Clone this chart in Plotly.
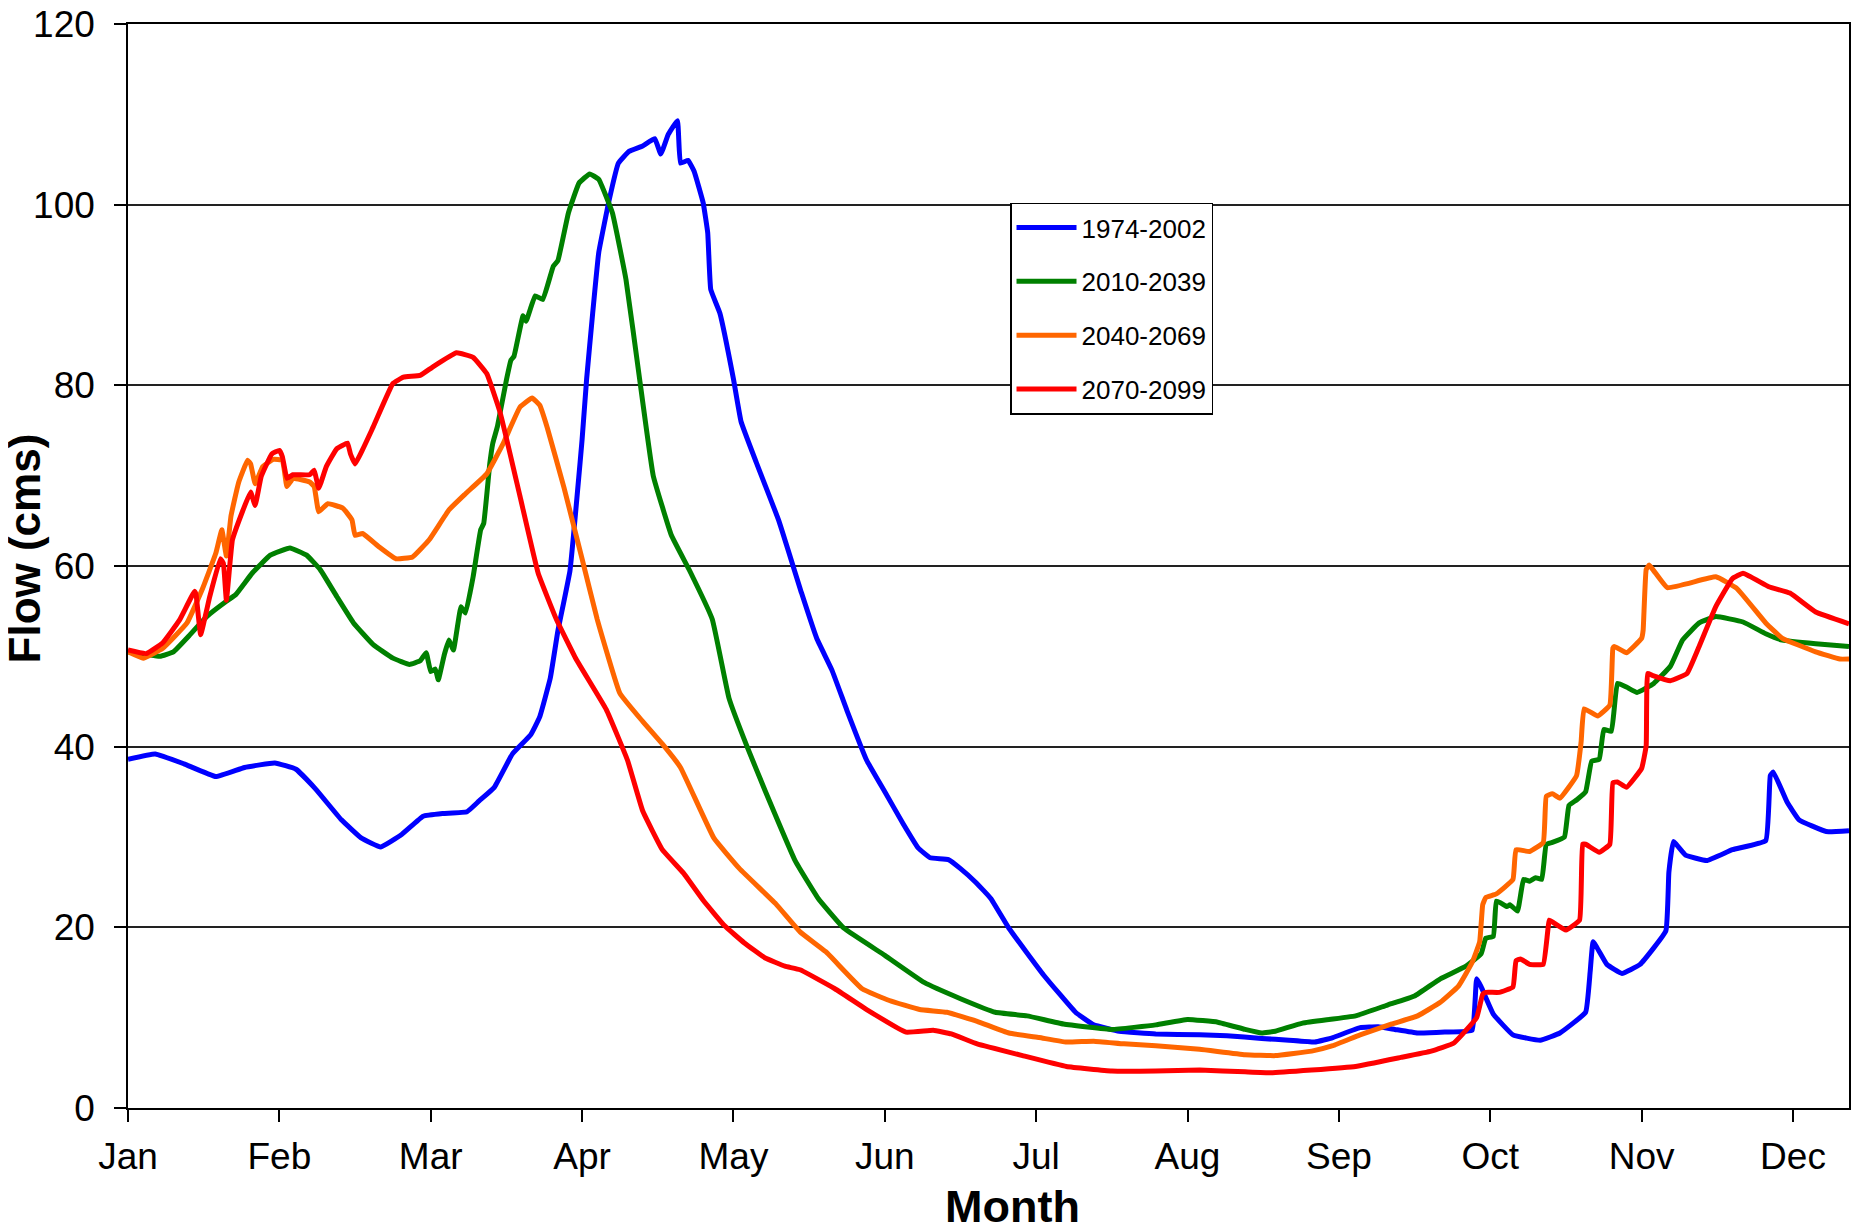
import plotly.graph_objects as go

months = ["Jan", "Feb", "Mar", "Apr", "May", "Jun", "Jul", "Aug", "Sep", "Oct", "Nov", "Dec"]
month_pos = list(range(12))
x_end = 11.37

series_names = ["1974-2002", "2010-2039", "2040-2069", "2070-2099"]
series_colors = ["#0000FF", "#008000", "#FF6600", "#FF0000"]

# x in month units (0 = Jan tick), y = flow (cms)
x_1974 = [0.00, 0.18, 0.37, 0.58, 0.77, 0.97, 1.11, 1.24, 1.41, 1.54, 1.67, 1.81, 1.95, 2.08, 2.24, 2.32,
          2.42, 2.54, 2.66, 2.72, 2.79, 2.84, 2.92, 3.00, 3.03, 3.07, 3.11, 3.18, 3.24, 3.31, 3.40, 3.48,
          3.52, 3.57, 3.63, 3.65, 3.70, 3.74, 3.80, 3.83, 3.85, 3.91, 4.00, 4.05, 4.15, 4.30, 4.45, 4.55,
          4.65, 4.75, 4.88, 5.00, 5.12, 5.22, 5.30, 5.42, 5.50, 5.60, 5.70, 5.82, 6.05, 6.26, 6.38, 6.55,
          6.79, 7.08, 7.26, 7.49, 7.67, 7.84, 7.96, 8.14, 8.26, 8.37, 8.52, 8.70, 8.88, 8.91, 8.94, 9.02,
          9.15, 9.33, 9.46, 9.63, 9.66, 9.68, 9.77, 9.87, 9.99, 10.16, 10.18, 10.21, 10.29, 10.43, 10.60,
          10.82, 10.85, 10.87, 10.96, 11.04, 11.22, 11.37]
y_1974 = [38.6, 39.2, 38.1, 36.7, 37.7, 38.2, 37.5, 35.3, 31.9, 29.9, 28.9, 30.3, 32.3, 32.6, 32.8, 34.0,
          35.5, 39.2, 41.3, 43.3, 47.6, 52.8, 59.5, 74.0, 80.7, 88.0, 94.7, 100.6, 104.6, 105.9, 106.5, 107.3,
          105.6, 107.8, 109.3, 104.6, 104.9, 103.7, 100.2, 96.9, 90.6, 88.0, 80.7, 76.0, 71.5, 65.0, 57.0, 52.0,
          48.5, 44.0, 38.5, 35.0, 31.5, 28.8, 27.7, 27.5, 26.5, 25.0, 23.2, 19.9, 14.7, 10.6, 9.2, 8.5,
          8.2, 8.1, 8.0, 7.7, 7.5, 7.3, 7.8, 8.9, 9.0, 8.7, 8.3, 8.4, 8.6, 14.3, 13.4, 10.4,
          8.1, 7.5, 8.3, 10.6, 15.1, 18.4, 15.9, 14.9, 15.9, 19.6, 26.1, 29.5, 28.0, 27.4, 28.6,
          29.6, 36.8, 37.2, 33.9, 31.9, 30.6, 30.7]

x_2010 = [0.00, 0.21, 0.30, 0.41, 0.52, 0.65, 0.71, 0.82, 0.94, 1.07, 1.18, 1.27, 1.38, 1.49, 1.62, 1.75,
          1.86, 1.93, 1.97, 2.00, 2.03, 2.05, 2.09, 2.12, 2.15, 2.20, 2.23, 2.28, 2.33, 2.35, 2.39, 2.41,
          2.44, 2.50, 2.53, 2.55, 2.61, 2.63, 2.69, 2.74, 2.81, 2.84, 2.91, 2.98, 3.05, 3.11, 3.20, 3.29,
          3.38, 3.47, 3.59, 3.71, 3.86, 3.97, 4.09, 4.21, 4.41, 4.56, 4.73, 5.00, 5.26, 5.50, 5.73, 5.94,
          6.18, 6.50, 6.79, 7.00, 7.20, 7.38, 7.49, 7.58, 7.76, 8.11, 8.32, 8.50, 8.67, 8.84, 8.94, 8.97,
          9.02, 9.04, 9.07, 9.11, 9.13, 9.18, 9.22, 9.26, 9.30, 9.34, 9.37, 9.41, 9.49, 9.52, 9.57, 9.63,
          9.67, 9.72, 9.75, 9.80, 9.84, 9.90, 9.97, 10.08, 10.19, 10.27, 10.38, 10.49, 10.67, 10.82, 10.93,
          11.15, 11.37]
y_2010 = [50.5, 50.0, 50.5, 52.4, 54.4, 56.1, 56.8, 59.2, 61.2, 62.0, 61.2, 59.6, 56.6, 53.7, 51.3, 49.8,
          49.1, 49.5, 50.4, 48.3, 48.6, 47.4, 50.2, 51.8, 50.7, 55.5, 54.8, 58.8, 64.0, 64.7, 71.3, 73.6,
          75.4, 80.6, 82.8, 83.2, 87.7, 87.1, 89.9, 89.5, 93.2, 93.8, 99.1, 102.4, 103.4, 102.8, 99.1, 91.7,
          80.7, 70.0, 63.4, 59.5, 54.1, 45.4, 40.0, 35.1, 27.3, 23.2, 19.9, 16.9, 13.9, 12.1, 10.6, 10.2,
          9.3, 8.7, 9.2, 9.8, 9.5, 8.7, 8.3, 8.5, 9.4, 10.2, 11.4, 12.4, 14.3, 15.7, 17.1, 18.8,
          19.0, 22.9, 22.7, 22.3, 22.5, 21.8, 25.3, 25.1, 25.5, 25.3, 29.2, 29.4, 30.0, 33.5, 34.1, 35.0,
          38.4, 38.6, 41.9, 41.7, 47.0, 46.6, 46.0, 47.0, 48.9, 51.8, 53.7, 54.4, 53.8, 52.5, 51.8,
          51.4, 51.1]

x_2040 = [0.00, 0.10, 0.23, 0.39, 0.49, 0.58, 0.62, 0.65, 0.68, 0.73, 0.79, 0.81, 0.84, 0.89, 0.96, 1.02,
          1.05, 1.09, 1.20, 1.23, 1.26, 1.32, 1.42, 1.48, 1.50, 1.55, 1.66, 1.77, 1.88, 1.99, 2.12, 2.23,
          2.37, 2.48, 2.59, 2.67, 2.72, 2.77, 2.88, 3.00, 3.10, 3.25, 3.40, 3.53, 3.65, 3.87, 4.04, 4.28,
          4.44, 4.61, 4.85, 5.03, 5.23, 5.41, 5.61, 5.82, 6.02, 6.20, 6.38, 6.58, 6.79, 7.08, 7.38, 7.58,
          7.82, 7.96, 8.14, 8.35, 8.52, 8.67, 8.79, 8.88, 8.93, 8.95, 8.97, 9.04, 9.15, 9.17, 9.26, 9.35,
          9.37, 9.41, 9.46, 9.57, 9.60, 9.62, 9.71, 9.79, 9.81, 9.82, 9.90, 10.00, 10.01, 10.03, 10.05,
          10.17, 10.49, 10.63, 10.82, 10.93, 11.15, 11.31, 11.37]
y_2040 = [50.5, 49.8, 50.9, 53.7, 57.4, 61.4, 64.0, 61.1, 65.5, 69.2, 71.7, 71.3, 69.1, 71.0, 71.8, 71.7,
          68.8, 69.7, 69.3, 68.8, 66.0, 66.9, 66.4, 65.1, 63.4, 63.6, 62.1, 60.8, 61.0, 62.9, 66.2, 68.0,
          70.2, 73.6, 77.6, 78.6, 77.8, 75.3, 68.7, 60.8, 54.1, 45.9, 42.8, 40.3, 37.7, 29.9, 26.5, 22.6,
          19.5, 17.3, 13.2, 11.9, 10.9, 10.6, 9.6, 8.3, 7.8, 7.3, 7.4, 7.1, 6.9, 6.5, 5.9, 5.8,
          6.3, 6.9, 8.1, 9.3, 10.2, 11.7, 13.5, 16.1, 18.4, 22.5, 23.3, 23.7, 25.3, 28.6, 28.4, 29.4,
          34.5, 34.8, 34.3, 36.8, 40.5, 44.2, 43.4, 44.6, 50.9, 51.1, 50.4, 52.0, 52.9, 59.6, 60.1,
          57.6, 58.8, 57.5, 53.7, 52.0, 50.5, 49.7, 49.7]

x_2070 = [0.00, 0.12, 0.23, 0.34, 0.44, 0.45, 0.48, 0.54, 0.61, 0.63, 0.65, 0.69, 0.76, 0.81, 0.84, 0.88,
          0.95, 1.00, 1.02, 1.05, 1.09, 1.20, 1.23, 1.26, 1.31, 1.38, 1.45, 1.47, 1.50, 1.62, 1.75, 1.82,
          1.93, 2.01, 2.17, 2.28, 2.37, 2.46, 2.59, 2.71, 2.83, 2.96, 3.16, 3.30, 3.40, 3.53, 3.67, 3.80,
          3.94, 4.07, 4.21, 4.34, 4.44, 4.67, 4.88, 5.14, 5.32, 5.44, 5.61, 5.91, 6.20, 6.50, 6.79, 7.08,
          7.38, 7.55, 7.82, 8.11, 8.41, 8.61, 8.76, 8.91, 8.95, 8.97, 9.06, 9.15, 9.17, 9.20, 9.26, 9.35,
          9.39, 9.41, 9.50, 9.59, 9.61, 9.63, 9.72, 9.79, 9.81, 9.84, 9.90, 10.00, 10.03, 10.04, 10.07,
          10.19, 10.30, 10.38, 10.49, 10.60, 10.67, 10.84, 10.98, 11.15, 11.37]
y_2070 = [50.7, 50.3, 51.5, 54.0, 57.2, 56.8, 52.4, 56.6, 60.8, 60.3, 56.2, 62.9, 66.2, 68.2, 66.7, 69.9,
          72.4, 72.8, 72.1, 69.7, 70.1, 70.1, 70.6, 68.6, 71.0, 73.0, 73.6, 72.4, 71.3, 75.4, 80.2, 80.9,
          81.1, 82.0, 83.6, 83.1, 81.3, 76.9, 67.7, 59.2, 54.1, 49.7, 44.1, 38.5, 32.9, 28.6, 26.0, 23.0,
          20.2, 18.3, 16.6, 15.7, 15.3, 13.2, 10.9, 8.4, 8.6, 8.2, 7.1, 5.8, 4.6, 4.1, 4.1, 4.2,
          4.0, 3.9, 4.2, 4.6, 5.6, 6.3, 7.2, 10.0, 12.6, 12.8, 12.8, 13.4, 16.3, 16.5, 15.9, 15.9,
          20.8, 20.6, 19.7, 20.8, 29.2, 29.2, 28.3, 29.2, 36.0, 36.1, 35.5, 37.6, 40.1, 48.1, 47.9,
          47.3, 48.1, 51.1, 55.5, 58.6, 59.2, 57.7, 57.0, 54.9, 53.6]

xs = [x_1974, x_2010, x_2040, x_2070]
ys = [y_1974, y_2010, y_2040, y_2070]

FONT = "Liberation Sans, Arial, sans-serif"

fig = go.Figure()
for name, color, x, y in zip(series_names, series_colors, xs, ys):
    fig.add_trace(go.Scatter(
        x=x, y=y, mode="lines", name=name, legendgroup=name,
        line=dict(color=color, width=5, shape="spline", smoothing=0.3),
    ))

# page body adds an 8px offset; figure is sized so the whole page is 1864x1232
W, H = 1856, 1224
fig.update_layout(
    width=W, height=H,
    paper_bgcolor="white", plot_bgcolor="white",
    margin=dict(l=120, r=15, t=16, b=124, autoexpand=False),
    font=dict(family=FONT, color="black"),
    showlegend=True,
    legend=dict(
        x=0.5125, y=0.8352, xanchor="left", yanchor="top",
        bgcolor="white", bordercolor="black", borderwidth=1.5,
        font=dict(family=FONT, size=26, color="black"),
        tracegroupgap=17, itemwidth=60,
    ),
    xaxis=dict(
        range=[0, x_end], tickmode="array", tickvals=month_pos, ticktext=months,
        ticks="outside", ticklen=12, tickwidth=1.5, tickcolor="black",
        showline=True, linecolor="black", linewidth=1.5, mirror=True,
        showgrid=False, zeroline=False, automargin=False,
        tickfont=dict(family=FONT, size=37, color="black"),
        ticklabelstandoff=3,
    ),
    yaxis=dict(
        range=[0, 120], tickmode="array", tickvals=[0, 20, 40, 60, 80, 100, 120],
        ticks="outside", ticklen=12, tickwidth=1.5, tickcolor="black",
        showline=True, linecolor="black", linewidth=1.5, mirror=True,
        showgrid=True, gridcolor="#222222", gridwidth=1.5, zeroline=False,
        automargin=False,
        tickfont=dict(family=FONT, size=37, color="black"),
        ticklabelstandoff=12, ticklabeloverflow="allow",
    ),
    annotations=[
        dict(text="<b>Month</b>", xref="paper", yref="paper", x=0.5137, y=-0.0905,
             xanchor="center", yanchor="middle", showarrow=False,
             font=dict(family=FONT, size=45, color="black")),
        dict(text="<b>Flow (cms)</b>", xref="paper", yref="paper", x=-0.0599, y=0.5161,
             xanchor="center", yanchor="middle", showarrow=False, textangle=-90,
             font=dict(family=FONT, size=44, color="black")),
    ],
)

fig.write_html("out.html")
